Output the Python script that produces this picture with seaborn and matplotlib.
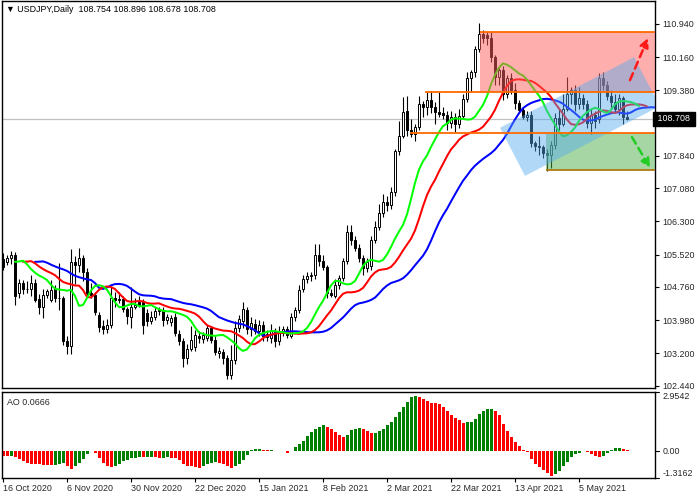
import numpy as np
import pandas as pd
import matplotlib
matplotlib.use("Agg")
import matplotlib.pyplot as plt
import matplotlib.transforms as mtransforms
from matplotlib.patches import Rectangle, Polygon
import seaborn as sns

# USDJPY daily candles (bar index 0 = 16 Oct 2020)
open_ = [105.42, 105.34, 105.43, 105.50, 104.62, 104.85, 104.72, 104.70, 104.85, 104.48,
         104.30, 104.58, 104.45, 104.70, 104.50, 104.50, 103.48, 103.38, 105.35, 105.28,
         105.43, 105.10, 104.62, 104.58, 104.10, 103.84, 103.78, 103.86, 104.50, 104.45,
         104.47, 104.24, 104.05, 104.29, 104.40, 104.40, 104.15, 103.95, 104.05, 104.20,
         104.22, 103.98, 103.93, 104.05, 103.66, 103.48, 103.10, 103.30, 103.35, 103.60,
         103.53, 103.55, 103.80, 103.52, 103.20, 103.22, 103.10, 102.70, 103.05, 103.80,
         103.95, 104.22, 103.76, 103.90, 103.72, 103.86, 103.58, 103.55, 103.70, 103.50,
         103.68, 103.78, 103.60, 104.06, 104.22, 104.70, 104.94, 105.02, 105.05, 105.52,
         105.38, 105.22, 104.62, 104.55, 104.80, 104.96, 105.38, 106.05, 105.86, 105.68,
         105.45, 105.20, 105.25, 105.86, 106.18, 106.50, 106.76, 106.68, 106.98, 107.96,
         108.30, 108.90, 108.45, 108.36, 108.52, 109.05, 108.98, 109.15, 109.00, 108.88,
         108.85, 108.80, 108.62, 108.75, 108.58, 108.78, 109.18, 109.68, 109.80, 110.35,
         110.70, 110.68, 110.60, 110.17, 109.70, 109.85, 109.30, 109.66, 109.40, 109.08,
         108.92, 108.76, 108.80, 108.14, 108.08, 108.05, 107.90, 107.85, 108.10, 108.72,
         108.60, 108.95, 109.30, 109.40, 109.05, 109.20, 109.05, 108.62, 108.80, 108.70,
         109.68, 109.50, 109.25, 109.10, 108.95, 109.20, 108.754]
high_ = [105.55, 105.50, 105.60, 105.58, 104.95, 104.92, 104.90, 105.05, 104.95, 104.60,
         104.72, 104.70, 104.92, 104.80, 105.32, 104.55, 103.60, 105.65, 105.48, 105.68,
         105.50, 105.20, 104.85, 104.65, 104.18, 103.98, 104.00, 104.75, 104.65, 104.64,
         104.55, 104.30, 104.75, 104.50, 104.55, 104.48, 104.25, 104.20, 104.30, 104.30,
         104.30, 104.12, 104.10, 104.15, 103.75, 103.55, 103.42, 103.85, 103.75, 103.72,
         103.70, 103.90, 103.85, 103.60, 103.35, 103.30, 103.15, 103.40, 103.95, 104.10,
         104.40, 104.30, 104.05, 104.00, 103.98, 103.95, 103.75, 103.90, 103.80, 103.85,
         103.85, 103.85, 104.15, 104.30, 104.80, 105.05, 105.10, 105.12, 105.76, 105.77,
         105.50, 105.28, 104.72, 104.95, 105.05, 105.45, 106.22, 106.22, 105.95, 105.77,
         105.50, 105.45, 105.95, 106.30, 106.70, 106.95, 106.90, 107.10, 108.00, 108.65,
         109.23, 109.24, 108.70, 108.60, 109.25, 109.12, 109.35, 109.36, 109.10, 109.35,
         109.00, 108.90, 108.90, 108.85, 108.95, 109.30, 109.80, 109.85, 110.42, 110.97,
         110.80, 110.75, 110.75, 110.22, 109.90, 109.95, 109.75, 109.78, 109.55, 109.15,
         109.00, 108.90, 108.90, 108.20, 108.30, 108.10, 108.00, 108.20, 108.85, 108.95,
         109.30, 109.70, 109.45, 109.50, 109.45, 109.30, 109.15, 108.95, 108.90, 109.78,
         109.80, 109.60, 109.40, 109.30, 109.30, 109.25, 108.896]
low_ = [105.15, 105.28, 105.30, 104.34, 104.50, 104.60, 104.62, 104.55, 104.40, 104.12,
        104.02, 104.50, 104.40, 104.40, 104.22, 103.40, 103.18, 103.18, 104.82, 105.10,
        104.90, 104.55, 104.50, 104.10, 103.70, 103.65, 103.68, 103.80, 104.30, 104.38,
        104.18, 103.90, 103.80, 104.25, 104.28, 103.65, 103.85, 103.90, 103.98, 104.10,
        103.85, 103.90, 103.85, 103.60, 103.40, 102.88, 102.95, 103.25, 103.25, 103.45,
        103.45, 103.48, 103.45, 103.15, 103.10, 102.95, 102.60, 102.59, 102.95, 103.70,
        103.80, 103.65, 103.60, 103.65, 103.60, 103.50, 103.50, 103.45, 103.35, 103.40,
        103.60, 103.55, 103.55, 103.95, 104.15, 104.65, 104.85, 104.90, 104.95, 105.25,
        105.15, 104.50, 104.52, 104.50, 104.70, 104.90, 105.30, 105.75, 105.60, 105.35,
        105.05, 105.10, 105.15, 105.80, 106.10, 106.40, 106.55, 106.60, 106.90, 107.85,
        108.25, 108.30, 108.28, 108.20, 108.45, 108.75, 108.80, 108.85, 108.60, 108.75,
        108.70, 108.45, 108.50, 108.40, 108.50, 108.70, 109.10, 109.35, 109.70, 110.28,
        110.50, 110.45, 110.05, 109.50, 109.50, 109.15, 109.20, 109.30, 108.95, 108.85,
        108.70, 108.65, 108.05, 107.95, 107.85, 107.80, 107.48, 107.55, 108.00, 108.45,
        108.55, 108.90, 109.05, 108.90, 108.95, 108.95, 108.50, 108.35, 108.50, 108.62,
        109.40, 109.15, 108.95, 108.85, 108.80, 108.60, 108.678]
close_ = [105.22, 105.43, 105.50, 104.55, 104.85, 104.72, 104.70, 104.85, 104.45, 104.30,
          104.58, 104.66, 104.69, 104.50, 104.51, 103.50, 103.38, 105.35, 105.28, 105.43,
          105.12, 104.62, 104.58, 104.18, 103.82, 103.78, 103.86, 104.50, 104.45, 104.47,
          104.24, 104.08, 104.29, 104.34, 104.33, 103.86, 103.95, 104.05, 104.20, 104.22,
          103.98, 104.05, 104.02, 103.68, 103.48, 103.10, 103.30, 103.52, 103.62, 103.55,
          103.63, 103.80, 103.52, 103.22, 103.25, 103.10, 102.70, 103.05, 103.80, 104.00,
          104.25, 103.78, 103.92, 103.72, 103.86, 103.60, 103.66, 103.72, 103.48, 103.70,
          103.78, 103.62, 104.05, 104.22, 104.68, 104.94, 105.02, 105.05, 105.52, 105.38,
          105.22, 104.62, 104.58, 104.80, 104.96, 105.38, 106.05, 105.86, 105.68, 105.45,
          105.20, 105.35, 105.86, 106.18, 106.50, 106.76, 106.68, 106.98, 107.96, 108.30,
          108.88, 108.45, 108.36, 108.52, 109.05, 109.00, 109.15, 109.00, 108.88, 108.82,
          108.80, 108.62, 108.75, 108.58, 108.78, 109.18, 109.68, 109.80, 110.35, 110.70,
          110.62, 110.60, 110.17, 109.70, 109.85, 109.30, 109.66, 109.40, 109.08, 108.92,
          108.76, 108.80, 108.14, 108.08, 108.05, 107.90, 107.85, 108.10, 108.72, 108.60,
          108.95, 109.30, 109.40, 109.05, 109.20, 109.05, 108.62, 108.80, 108.65, 109.68,
          109.50, 109.25, 109.10, 108.95, 109.20, 108.75, 108.708]

# Awesome Oscillator values
ao_values = [-0.23, -0.24, -0.22, -0.27, -0.36, -0.46, -0.56, -0.60, -0.63, -0.64,
             -0.66, -0.68, -0.69, -0.67, -0.64, -0.58, -0.73, -0.86, -0.73, -0.56,
             -0.36, -0.10, 0.03, -0.07, -0.33, -0.56, -0.70, -0.76, -0.73, -0.60,
             -0.46, -0.40, -0.33, -0.30, -0.28, -0.29, -0.26, -0.25, -0.28, -0.33,
             -0.30, -0.27, -0.30, -0.31, -0.41, -0.61, -0.71, -0.74, -0.79, -0.80,
             -0.70, -0.61, -0.55, -0.54, -0.56, -0.62, -0.71, -0.80, -0.74, -0.61,
             -0.41, -0.17, 0.05, 0.13, 0.14, 0.08, 0.07, 0.08, 0.04, 0.03,
             0.04, -0.05, 0.03, 0.20, 0.38, 0.53, 0.78, 0.98, 1.13, 1.22,
             1.32, 1.22, 1.13, 0.98, 0.83, 0.73, 0.83, 1.07, 1.12, 1.15,
             1.14, 1.03, 0.90, 0.93, 1.02, 1.12, 1.32, 1.48, 1.70, 1.96,
             2.23, 2.47, 2.69, 2.77, 2.72, 2.61, 2.51, 2.42, 2.41, 2.36,
             2.23, 2.03, 1.83, 1.68, 1.56, 1.43, 1.45, 1.47, 1.61, 1.85,
             2.03, 2.09, 2.10, 2.03, 1.81, 1.35, 1.03, 0.74, 0.49, 0.27,
             0.07, -0.04, -0.39, -0.62, -0.79, -0.92, -1.08, -1.20, -1.13, -0.95,
             -0.72, -0.52, -0.26, -0.12, -0.06, 0.02, -0.04, -0.12, -0.22, -0.29,
             -0.22, -0.07, 0.07, 0.17, 0.18, 0.11, 0.0666]

date_ticks = [0, 16, 32, 48, 64, 80, 96, 112, 128, 144]
date_labels = ["16 Oct 2020", "6 Nov 2020", "30 Nov 2020", "22 Dec 2020", "15 Jan 2021",
               "8 Feb 2021", "2 Mar 2021", "22 Mar 2021", "13 Apr 2021", "5 May 2021"]
price_ticks = [110.94, 110.16, 109.38, 108.62, 107.84, 107.08, 106.30, 105.52,
               104.76, 103.98, 103.20, 102.44]
ao_range = [-1.3162, 2.9542]
last_price = 108.708

# drawn objects: levels (price, start bar, colour), boxes, channel, arrows
level_lines = [(110.745, 119.25, "#ff6a00"), (109.335, 105.5, "#ff6a00"),
               (108.37, 101.75, "#ff6a00"), (107.51, 135.75, "#b07a10")]
red_box = (119.25, 109.335, 110.745)
green_box = (135.75, 107.51, 108.37)
channel = [(124.25, 108.50), (130.5, 107.37), (164.25, 109.01), (157.75, 110.16)]
arrow_up = ((156.75, 109.62), (161.25, 110.61))
arrow_down = ((157.25, 108.28), (161.75, 107.56))

sns.set_style("white")
plt.rcParams['font.family'] = ['Liberation Sans', 'DejaVu Sans']
FS = 6.4

df = pd.DataFrame({"open": open_, "high": high_, "low": low_, "close": close_})
n = len(df)
idx = np.arange(n)
median = (df["high"] + df["low"]) / 2


def smma(s, period):
    return s.ewm(alpha=1.0 / period, adjust=False).mean()


fig = plt.figure(figsize=(7, 5), dpi=100)
ax = fig.add_axes([2 / 700, 1 - 388 / 500, 653 / 700, 387 / 500])
ax_ao = fig.add_axes([2 / 700, 1 - 478 / 500, 653 / 700, 86 / 500], sharex=ax)

# current price line
ax.axhline(last_price, color="#c0c0c0", lw=0.9, zorder=1)

# candles
up = df["close"] >= df["open"]
body_lo = np.minimum(df["open"], df["close"])
body_h = np.maximum((df["close"] - df["open"]).abs(), 0.006)
ax.vlines(idx, df["low"], df["high"], color="black", lw=0.8, zorder=3)
ax.bar(idx, body_h, bottom=body_lo, width=0.62,
       color=np.where(up, "white", "black"), edgecolor="black", lw=0.7, zorder=4)

# alligator lines (jaw, teeth, lips)
for series, shift, color in [(smma(median, 13), 8, "#0000ff"),
                             (smma(median, 8), 5, "#ff0000"),
                             (smma(median, 5), 3, "#00ff00")]:
    sns.lineplot(x=idx + shift, y=series.values, ax=ax, color=color, lw=1.45, zorder=5)

# boxes and channel
x_end = 170
ax.add_patch(Rectangle((red_box[0], red_box[1]), x_end - red_box[0], red_box[2] - red_box[1],
                       facecolor="#ff5f5f", alpha=0.5, lw=0, zorder=6))
ax.add_patch(Rectangle((green_box[0], green_box[1]), x_end - green_box[0], green_box[2] - green_box[1],
                       facecolor="#4daf4a", alpha=0.5, lw=0, zorder=6))
ax.add_patch(Polygon(channel, closed=True, facecolor="#55aaf0", alpha=0.45, lw=0, zorder=7))

for price, start, color in level_lines:
    ax.hlines(price, start, x_end, color=color, lw=1.3, zorder=8)

for (start, end), color in [(arrow_up, "#ff1a1a"), (arrow_down, "#22cc22")]:
    ax.annotate("", xy=end, xytext=start,
                arrowprops=dict(arrowstyle="-|>", color=color, lw=1.8,
                                linestyle=(0, (3, 2)), mutation_scale=13,
                                shrinkA=0, shrinkB=0),
                zorder=9)

ax.set_xlim(-0.25, 163)
ax.set_ylim(102.385, 111.48)
ax.yaxis.tick_right()
ax.set_yticks(price_ticks)
ax.set_yticklabels([f"{p:.3f}" for p in price_ticks])
ax.tick_params(axis="y", length=3, width=0.8, labelsize=FS, pad=2, color="black")
ax.tick_params(axis="x", bottom=False, labelbottom=False)
ax.set_xlabel("")
ax.set_ylabel("")

# last-price tag on the price scale (covers the 108.620 label like the terminal does)
ax.text(1.0, last_price, " 108.708 ",
        transform=mtransforms.blended_transform_factory(ax.transAxes, ax.transData),
        ha="left", va="center", color="white", fontsize=FS,
        bbox=dict(boxstyle="square,pad=0.25", fc="black", ec="black"), clip_on=False, zorder=20)

fig.text(6 / 700, 1 - 10 / 500, "\u25bc USDJPY,Daily  108.754 108.896 108.678 108.708",
         fontsize=FS, va="center", ha="left", color="black")

# AO panel
ao_s = pd.Series(ao_values)
ao_colors = np.where(ao_s.diff() > 0, "#008000", "#ff0000")
ax_ao.bar(idx, ao_s.values, width=0.75, color=ao_colors, lw=0)
ax_ao.set_ylim(*ao_range)
ax_ao.set_yticks([])
ax_ao.set_xticks(date_ticks)
ax_ao.set_xticklabels(date_labels)
for lbl in ax_ao.get_xticklabels():
    lbl.set_ha("left")
ax_ao.tick_params(axis="x", length=3, width=0.8, labelsize=FS, pad=1.5, color="black", bottom=True)
ax_ao.text(0.008, 0.88, "AO 0.0666", transform=ax_ao.transAxes, fontsize=FS, va="center")

bt = mtransforms.blended_transform_factory(ax_ao.transAxes, ax_ao.transData)
for val, txt, va in [(ao_range[1], "2.9542", "top"), (0.0, "0.00", "center"),
                     (ao_range[0], "-1.3162", "bottom")]:
    ax_ao.text(1.012, val, txt, transform=bt, fontsize=FS, ha="left", va=va, clip_on=False)
    ax_ao.plot([1.0, 1.006], [val, val], transform=bt, color="black", lw=0.8, clip_on=False)

for a in (ax, ax_ao):
    for sp in a.spines.values():
        sp.set_color("black")
        sp.set_linewidth(1.0)
        sp.set_visible(True)

fig.savefig("out.png", dpi=100)
